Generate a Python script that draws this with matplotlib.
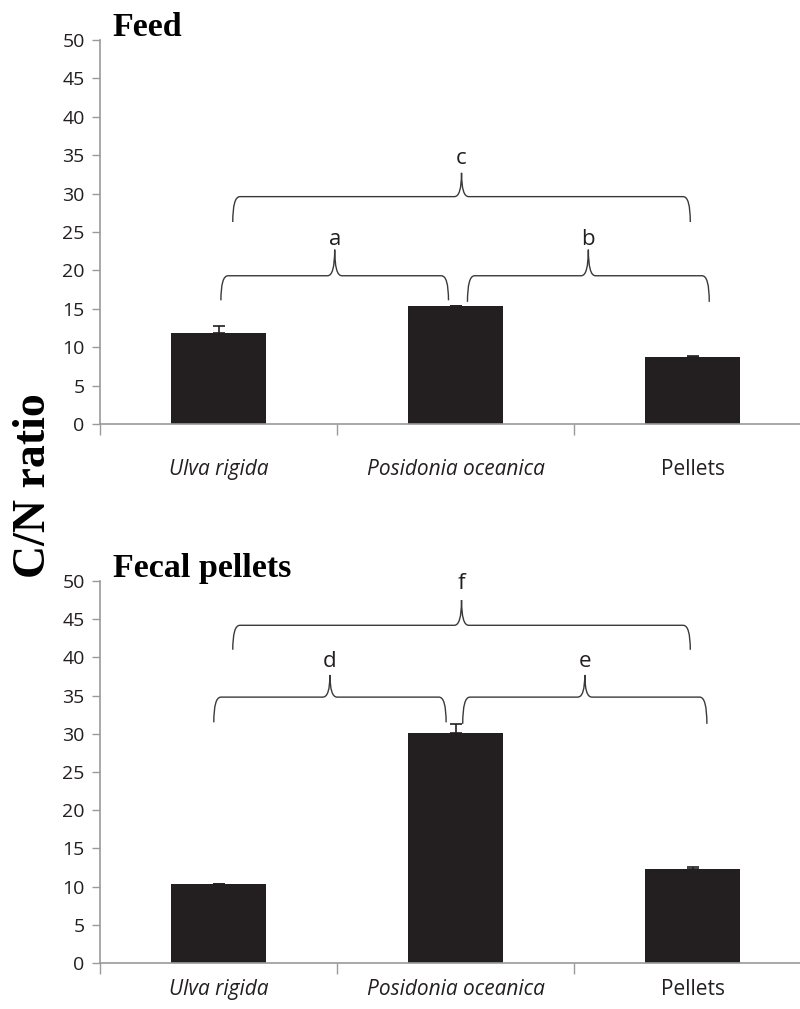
import numpy as np
import matplotlib.pyplot as plt
from matplotlib.path import Path
from matplotlib.patches import PathPatch
from matplotlib.transforms import offset_copy

categories = ['Ulva rigida', 'Posidonia oceanica', 'Pellets']
cat_italic = [True, True, False]

feed_values = [11.9, 15.3, 8.7]
feed_err = [0.8, 0.1, 0.1]
fecal_values = [10.3, 30.1, 12.3]
fecal_err = [0.1, 1.2, 0.3]

# brace groups: (label, x_start, x_end, y_end, y_line, y_tip, y_text)
feed_braces = [
    ('c', 0.06, 1.99, 26.3, 29.6, 32.7, 34.6),
    ('a', 0.01, 0.97, 16.1, 19.3, 22.7, 24.0),
    ('b', 1.05, 2.07, 15.9, 19.3, 22.7, 24.0),
]
fecal_braces = [
    ('f', 0.06, 1.99, 41.0, 44.2, 47.5, 49.7),
    ('d', -0.02, 0.96, 31.5, 34.8, 37.7, 39.4),
    ('e', 1.03, 2.06, 31.3, 34.8, 37.7, 39.4),
]

BAR_COLOR = '#231f20'
AXIS_COLOR = '#9a9a9a'
TICK_FONT = 'Open Sans'


def draw_brace(ax, x0, x1, y_end, y_line, y_tip, dx=0.03):
    xm = (x0 + x1) / 2
    verts = [
        (x0, y_end), (x0, y_line), (x0 + dx, y_line),
        (xm - dx, y_line), (xm, y_line), (xm, y_tip),
        (xm, y_line), (xm + dx, y_line),
        (x1 - dx, y_line), (x1, y_line), (x1, y_end),
    ]
    codes = [Path.MOVETO, Path.CURVE3, Path.CURVE3,
             Path.LINETO, Path.CURVE3, Path.CURVE3,
             Path.CURVE3, Path.CURVE3,
             Path.LINETO, Path.CURVE3, Path.CURVE3]
    ax.add_patch(PathPatch(Path(verts, codes), facecolor='none',
                           edgecolor='#3a3a3a', lw=1.0))


def panel(ax, values, err, braces, title, label_drop):
    x = np.arange(len(categories))
    ax.bar(x, values, width=0.4, color=BAR_COLOR, zorder=2)
    ax.errorbar(x, values, yerr=[np.zeros(len(err)), err], fmt='none',
                ecolor=BAR_COLOR, elinewidth=1.2, capsize=4, capthick=1.2, zorder=3)
    for lab, x0, x1, ye, yl, yt, ytext in braces:
        draw_brace(ax, x0, x1, ye, yl, yt)
        ax.text((x0 + x1) / 2, ytext, lab, ha='center', va='center',
                fontsize=16, family=TICK_FONT, color='#231f20')

    ax.set_xlim(-0.5, 2.5)
    ax.set_ylim(0, 50)
    ax.set_yticks(range(0, 51, 5))
    ax.set_xticks([-0.5, 0.5, 1.5, 2.5])
    ax.set_xticklabels([])
    ax.tick_params(axis='x', length=8, width=1, color=AXIS_COLOR)
    ax.tick_params(axis='y', length=6, width=1, color=AXIS_COLOR,
                   labelsize=14, labelcolor='#231f20', pad=5)
    for lbl in ax.get_yticklabels():
        lbl.set_family(TICK_FONT)
    trans = offset_copy(ax.get_xaxis_transform(), fig=ax.figure,
                        y=-label_drop, units='dots')
    for i, cat in enumerate(categories):
        ax.text(i, 0, cat, transform=trans, ha='center', va='center', fontsize=15,
                family=TICK_FONT, style='italic' if cat_italic[i] else 'normal',
                color='#231f20')
    for s in ['top', 'right']:
        ax.spines[s].set_visible(False)
    for s in ['left', 'bottom']:
        ax.spines[s].set_color(AXIS_COLOR)
        ax.spines[s].set_linewidth(1.2)
    ttrans = offset_copy(ax.transAxes, fig=ax.figure, y=-3, units='dots')
    ax.text(0.018, 1.0, title, transform=ttrans, ha='left', va='bottom',
            fontsize=24.5, fontweight='bold', family='Liberation Serif')


fig = plt.figure(figsize=(8, 10.09), dpi=100)
ax1 = fig.add_axes([0.125, 0.5798, 0.889, 0.3806])
ax2 = fig.add_axes([0.125, 0.0456, 0.889, 0.3786])

panel(ax1, feed_values, feed_err, feed_braces, 'Feed', 46)
panel(ax2, fecal_values, fecal_err, fecal_braces, 'Fecal pellets', 27)

fig.text(0.042, 0.519, 'C/N ratio', rotation=90, ha='center', va='center',
         fontsize=33, fontweight='bold', family='Liberation Serif')

fig.savefig('out.png', dpi=100)
